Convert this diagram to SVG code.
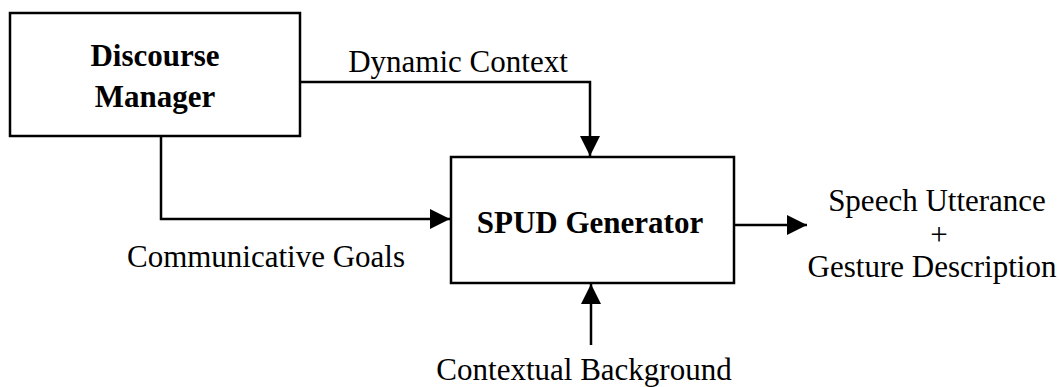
<svg xmlns="http://www.w3.org/2000/svg" width="1060" height="387" viewBox="0 0 1060 387">
  <style>
    .box { fill: #ffffff; stroke: #000000; stroke-width: 2.5; }
    .edge { fill: none; stroke: #000000; stroke-width: 2.5; }
    .lbl { font-family: "Liberation Serif", "Times New Roman", serif; font-size: 31px; fill: #000000; text-anchor: middle; }
    .bold { font-weight: bold; }
  </style>
  <defs>
    <marker id="arrow" markerUnits="userSpaceOnUse" markerWidth="20" markerHeight="20" refX="20" refY="10" orient="auto">
      <path d="M0,0 L20,10 L0,20 z" fill="#000000"/>
    </marker>
  </defs>
  <rect width="1060" height="387" fill="#ffffff"/>
  <g id="connectors">
    <path class="edge" d="M300,82 H590 V156" marker-end="url(#arrow)"/>
    <path class="edge" d="M161,136 V219 H450" marker-end="url(#arrow)"/>
    <path class="edge" d="M734,225 H807" marker-end="url(#arrow)"/>
    <path class="edge" d="M591,345 V284" marker-end="url(#arrow)"/>
  </g>
  <g id="discourse-manager">
    <rect class="box" x="10" y="13" width="290" height="123"/>
    <text class="lbl bold" x="155" y="66">Discourse</text>
    <text class="lbl bold" x="155" y="107">Manager</text>
  </g>
  <g id="spud-generator">
    <rect class="box" x="451" y="157" width="283" height="126"/>
    <text class="lbl bold" x="590" y="233">SPUD Generator</text>
  </g>
  <g id="labels">
    <text class="lbl" x="458" y="72">Dynamic Context</text>
    <text class="lbl" x="266" y="267">Communicative Goals</text>
    <text class="lbl" x="937" y="211">Speech Utterance</text>
    <text class="lbl" x="939" y="245">+</text>
    <text class="lbl" x="932" y="277">Gesture Description</text>
    <text class="lbl" x="584" y="380">Contextual Background</text>
  </g>
</svg>
